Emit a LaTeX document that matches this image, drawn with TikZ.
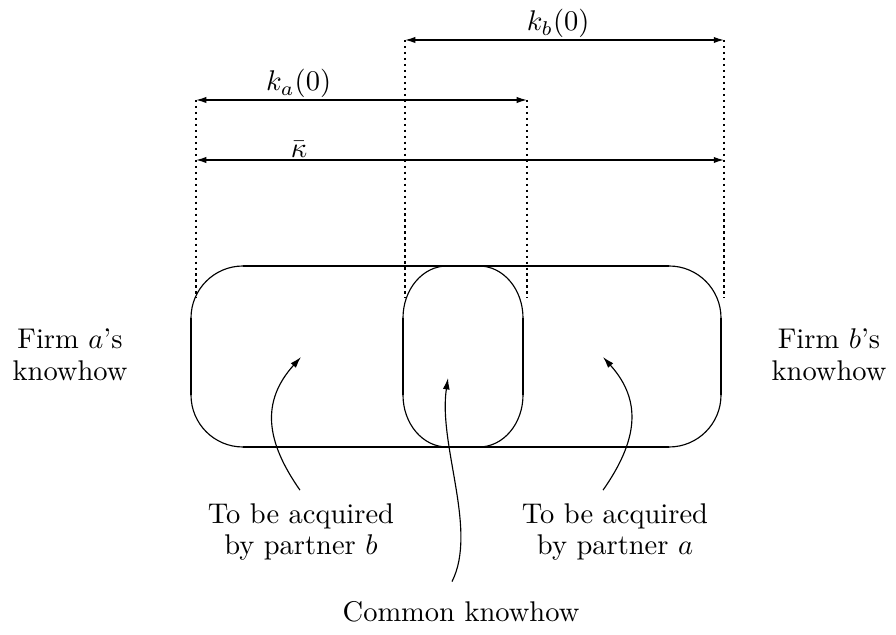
\documentclass[tikz,border=0pt]{standalone}
\usepackage{amsmath,amssymb}
\usepackage{tikz}
\usetikzlibrary{arrows.meta,calc}
\tikzset{every node/.append style={font=\rmfamily}}
\tikzset{
  dimline/.style={{Latex[length=3.6pt,width=2.2pt]}-{Latex[length=3.6pt,width=2.2pt]},line width=.45pt},
  guide/.style={line width=.8pt,dash pattern=on .8pt off 1.3pt},
  arcline/.style={line width=.4pt},
  sideline/.style={line width=.8pt},
  pointer/.style={-{Latex[length=4pt,width=2.4pt]},line width=.4pt},
  dimlabel/.style={above,inner sep=.5pt}
}

\begin{document}
\begin{tikzpicture}[x=.351pt,y=.351pt]
  \useasboundingbox (0,0) rectangle (896,635);
  % ends of the dotted guides
  \coordinate (aL) at (196,535);
  \coordinate (aR) at (527,535);
  \coordinate (bL) at (405,595);
  \coordinate (bR) at (724,595);
  \coordinate (kL) at (196,475);
  \coordinate (kR) at (724,475);
  \draw[guide] (aL) -- (196,337);
  \draw[guide] (aR) -- (527,337);
  \draw[guide] (bL) -- (405,337);
  \draw[guide] (bR) -- (724,337);
  % the three spans
  \draw[dimline] (bL) -- node[dimlabel,pos=.48] {$k_b(0)$} (bR);
  \draw[dimline] (aL) -- node[dimlabel,pos=.31] {$k_a(0)$} (aR);
  \draw[dimline] (kL) -- node[dimlabel,pos=.195] {$\bar{\kappa}$} (kR);
  % knowhow of both firms
  \draw[arcline,rounded corners=18.25pt] (191,188) rectangle (721,369);
  \draw[sideline] (243,369) -- (669,369);
  \draw[sideline] (243,188) -- (669,188);
  \draw[sideline] (191,240) -- (191,317);
  \draw[sideline] (721,240) -- (721,317);
  % common part
  \draw[arcline] (403,317) arc[start angle=180,end angle=90,x radius=44,y radius=52]
    -- (479,369) arc[start angle=90,end angle=0,x radius=44,y radius=52];
  \draw[arcline] (403,240) arc[start angle=180,end angle=270,x radius=44,y radius=52]
    -- (479,188) arc[start angle=270,end angle=360,x radius=44,y radius=52];
  \draw[sideline] (403,240) -- (403,317);
  \draw[sideline] (523,240) -- (523,317);
  % texts
  \node[align=center] (firma) at (70,280) {Firm $a$'s\\[-.8pt]knowhow};
  \node[align=center] (firmb) at (829,280) {Firm $b$'s\\[-.8pt]knowhow};
  \node[align=center] (accb) at (301,103) {To be acquired\\[-.8pt]by partner $b$};
  \node[align=center] (acca) at (615,103) {To be acquired\\[-.8pt]by partner $a$};
  \node (common) at (461,23) {Common knowhow};
  % pointers
  \coordinate (inb) at (301,278);
  \coordinate (inc) at (448,257);
  \coordinate (ina) at (603,278);
  \draw[pointer] ([shift={(-1,3)}]accb.north) to[out=125,in=228,looseness=1.15] (inb);
  \draw[pointer] ([shift={(-12,3)}]acca.north) to[out=55,in=-48,looseness=1.15] (ina);
  \draw[pointer] ([shift={(-9,10)}]common.north)
    .. controls (478,105) and (438,190) .. (inc);
\end{tikzpicture}
\end{document}
